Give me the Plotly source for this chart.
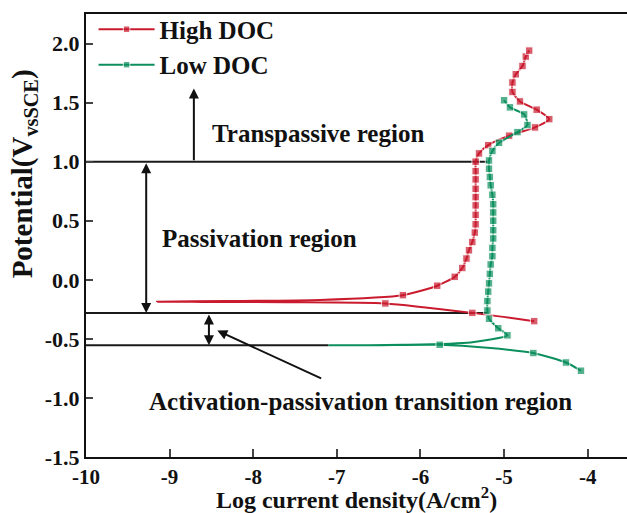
import plotly.graph_objects as go

# High DOC polarization curve (log i, E), cathodic end -> tip -> anodic end
red_x = [-4.64, -5.38, -6.42, -7.6, -8.6, -9.15, -8.3, -7.2, -6.21, -5.80, -5.59, -5.50, -5.45,
         -5.42, -5.38, -5.35, -5.34, -5.34, -5.34, -5.34, -5.34, -5.34, -5.34, -5.34, -5.30,
         -5.19, -4.94, -4.63, -4.46, -4.61, -4.81, -4.90, -4.90, -4.86, -4.78, -4.74, -4.70]
red_y = [-0.35, -0.28, -0.20, -0.19, -0.187, -0.185, -0.18, -0.17, -0.13, -0.05, 0.025, 0.10, 0.18,
         0.25, 0.32, 0.40, 0.47, 0.55, 0.63, 0.70, 0.77, 0.85, 0.92, 1.00, 1.07,
         1.14, 1.22, 1.29, 1.36, 1.44, 1.51, 1.59, 1.67, 1.74, 1.81, 1.89, 1.94]
red_plain = [3, 4, 5, 6, 7]

# Low DOC polarization curve
green_x = [-4.08, -4.26, -4.65, -5.2, -5.77, -6.5, -7.1, -6.2, -5.4, -4.96, -5.07, -5.18, -5.20,
           -5.20, -5.19, -5.18, -5.17, -5.16, -5.14, -5.14, -5.13, -5.13, -5.13, -5.13, -5.13,
           -5.14, -5.16, -5.17, -5.18, -5.18, -5.14, -5.06, -4.84, -4.72, -4.76, -4.93, -5.00]
green_y = [-0.77, -0.70, -0.62, -0.575, -0.55, -0.553, -0.555, -0.55, -0.53, -0.47, -0.41, -0.33, -0.26,
           -0.18, -0.10, -0.03, 0.05, 0.13, 0.20, 0.27, 0.35, 0.42, 0.50, 0.57, 0.64,
           0.72, 0.80, 0.87, 0.94, 1.01, 1.09, 1.16, 1.25, 1.31, 1.40, 1.46, 1.52]
green_plain = [3, 5, 6, 7, 8]

# region boundary lines: potential level and right end (log i)
region_levels = [1.0, -0.28, -0.555]
region_ends = [-5.2, -5.2, -7.1]

x_ticks = [-10, -9, -8, -7, -6, -5, -4]
x_ticktext = ['-10', '-9', '-8', '-7', '-6', '-5', '-4']
y_ticks = [-1.5, -1.0, -0.5, 0.0, 0.5, 1.0, 1.5, 2.0]
y_ticktext = ['-1.5', '-1.0', '-0.5', '0.0', '0.5', '1.0', '1.5', '2.0']

RED = '#C91A2E'
GREEN = '#0C8F5E'
FONT = 'Liberation Serif'
INK = '#111111'

fig = go.Figure()

for lvl, end in zip(region_levels, region_ends):
    fig.add_trace(go.Scatter(x=[-10, end], y=[lvl, lvl], mode='lines',
                             line=dict(color='#1a1a1a', width=2), showlegend=False, hoverinfo='skip'))

def sizes(n, plain):
    return [0 if i in plain else 7.5 for i in range(n)]

fig.add_trace(go.Scatter(
    x=red_x, y=red_y, mode='lines+markers', name='High DOC',
    line=dict(color=RED, width=2, shape='spline', smoothing=0.6),
    marker=dict(symbol='square', size=sizes(len(red_x), red_plain), color=RED)
))
fig.add_trace(go.Scatter(
    x=green_x, y=green_y, mode='lines+markers', name='Low DOC',
    line=dict(color=GREEN, width=2, shape='spline', smoothing=0.6),
    marker=dict(symbol='square', size=sizes(len(green_x), green_plain), color=GREEN)
))

txt = dict(family=FONT, size=25, color=INK, weight='bold')
arrow = dict(showarrow=True, arrowcolor=INK, arrowwidth=2, arrowhead=2, arrowsize=1,
             axref='x', ayref='y', text='')

fig.add_annotation(x=-8.71, y=1.62, ax=-8.71, ay=1.0, **arrow)
fig.add_annotation(x=-9.28, y=-0.28, ax=-9.28, ay=1.0, arrowside='end+start', **arrow)
fig.add_annotation(x=-8.53, y=-0.555, ax=-8.53, ay=-0.28, arrowside='end+start', **arrow)
fig.add_annotation(x=-8.43, y=-0.43, ax=-7.17, ay=-0.84, **arrow)

fig.add_annotation(x=-8.52, y=1.24, text='Transpassive region', showarrow=False,
                   xanchor='left', yanchor='middle', font=txt)
fig.add_annotation(x=-9.115, y=0.35, text='Passivation region', showarrow=False,
                   xanchor='left', yanchor='middle', font=txt)
fig.add_annotation(x=-9.27, y=-1.03, text='Activation-passivation transition region', showarrow=False,
                   xanchor='left', yanchor='middle', font=txt)

# y axis title placed by hand (sits above the axis centre in the original)
fig.add_annotation(x=-0.113, y=0.64, xref='paper', yref='paper', text='Potential(V<sub>vsSCE</sub>)',
                   showarrow=False, textangle=-90, xanchor='center', yanchor='middle',
                   font=dict(family=FONT, size=29, color=INK, weight='bold'))

fig.update_layout(
    width=627, height=513,
    margin=dict(l=86, r=0, t=14, b=56),
    plot_bgcolor='white', paper_bgcolor='white',
    font=dict(family=FONT, color=INK, weight='bold'),
    showlegend=True,
    legend=dict(x=0.014, y=1.017, xanchor='left', yanchor='top', bgcolor='rgba(0,0,0,0)',
                font=txt, tracegroupgap=0, itemwidth=56),
    xaxis=dict(range=[-10, -3.53], tickvals=x_ticks, ticktext=x_ticktext, ticks='inside', ticklen=8,
               tickwidth=1.5, showline=True, linecolor=INK, linewidth=2, mirror=True,
               showgrid=False, zeroline=False,
               tickfont=dict(family=FONT, size=21, color=INK, weight='bold'),
               title=dict(text='Log current density(A/cm<sup>2</sup>)', standoff=2,
                          font=dict(family=FONT, size=24, color=INK, weight='bold'))),
    yaxis=dict(range=[-1.5, 2.25], tickvals=y_ticks, ticktext=y_ticktext, ticks='inside', ticklen=7,
               tickwidth=1.5, showline=True, linecolor=INK, linewidth=2, mirror=False,
               showgrid=False, zeroline=False,
               tickfont=dict(family=FONT, size=22, color=INK, weight='bold')),
)

fig.write_html('out.html', config={'displayModeBar': False},
               post_script="document.body.style.margin='0';")
